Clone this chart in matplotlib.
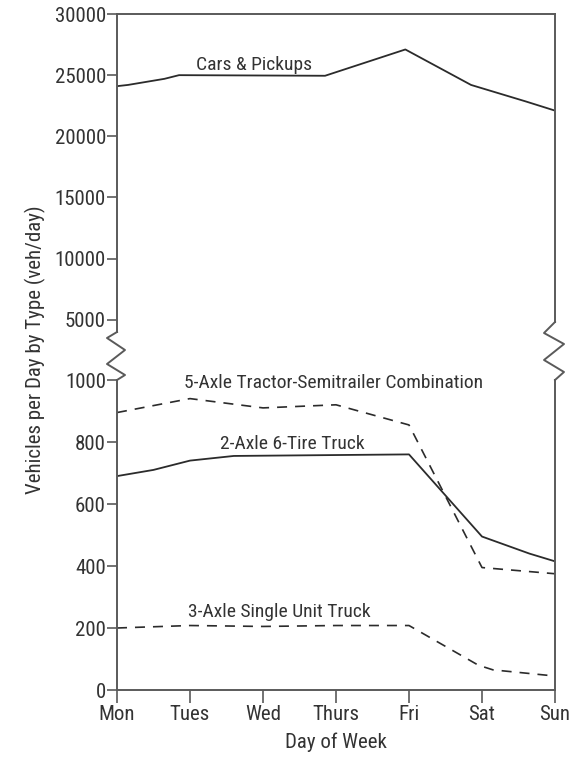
import numpy as np
import matplotlib.pyplot as plt
from matplotlib.lines import Line2D

plt.rcParams['font.family'] = ['Roboto Condensed', 'Archivo Narrow', 'Liberation Sans', 'DejaVu Sans']

# day index 0..6 = Mon..Sun
days = ['Mon', 'Tues', 'Wed', 'Thurs', 'Fri', 'Sat', 'Sun']

# values (x = position in days)
cars_x = [0, 0.15, 0.65, 0.85, 2.85, 3.95, 4.85, 5.6, 6]
cars_y = [24100, 24200, 24700, 25000, 24950, 27100, 24200, 22850, 22100]

axle5_x = [0, 1, 2, 3, 4, 5, 6]
axle5_y = [895, 940, 910, 920, 855, 395, 375]

axle2_x = [0, 0.5, 1, 1.6, 4, 5, 5.65, 6]
axle2_y = [690, 710, 740, 755, 760, 495, 440, 415]

axle3_x = [0, 1, 2, 3, 4, 4.95, 5.15, 6]
axle3_y = [200, 208, 205, 208, 208, 80, 65, 45]

top_ticks = [5000, 10000, 15000, 20000, 25000, 30000]
bot_ticks = [0, 200, 400, 600, 800, 1000]

W, H = 574, 759
fig = plt.figure(figsize=(W / 100, H / 100), dpi=100)

def px(x, y):
    return x / W, 1 - y / H

x0, x1 = 117, 555
ax_top = fig.add_axes([x0 / W, 1 - 332 / H, (x1 - x0) / W, (332 - 14) / H])
ax_bot = fig.add_axes([x0 / W, 1 - 690 / H, (x1 - x0) / W, (690 - 380) / H])

line_c = '#2b2b2b'
spine_c = '#5a5a5a'
text_c = '#333333'
dash = (0, (6, 4.8))

ax_top.plot(cars_x, cars_y, color=line_c, lw=1.3)
ax_bot.plot(axle5_x, axle5_y, color=line_c, lw=1.2, linestyle=dash)
ax_bot.plot(axle2_x, axle2_y, color=line_c, lw=1.3)
ax_bot.plot(axle3_x, axle3_y, color=line_c, lw=1.2, linestyle=dash)

for a in (ax_top, ax_bot):
    a.set_xlim(0, 6)
    for s in a.spines.values():
        s.set_color(spine_c)
        s.set_linewidth(1.4)
    a.tick_params(colors=spine_c, labelcolor=text_c, labelsize=15,
                  width=1.2, length=7, pad=1)

ax_top.set_ylim(4000, 30000)
ax_top.set_yticks(top_ticks)
ax_top.spines['bottom'].set_visible(False)
ax_top.spines['right'].set_bounds(4800, 30000)
ax_top.tick_params(axis='x', bottom=False, labelbottom=False)

ax_bot.set_ylim(0, 1000)
ax_bot.set_yticks(bot_ticks)
ax_bot.spines['top'].set_visible(False)
ax_bot.set_xticks(range(len(days)))
ax_bot.set_xticklabels(days)
ax_bot.tick_params(axis='x', length=9, pad=2)

# series labels
ax_top.text(1.88, 25840, 'Cars & Pickups', ha='center', va='center', fontsize=14, color=text_c)
ax_bot.text(2.96, 990, '5-Axle Tractor-Semitrailer Combination', ha='center', va='center',
            fontsize=14, color=text_c)
ax_bot.text(2.40, 793, '2-Axle 6-Tire Truck', ha='center', va='center', fontsize=14, color=text_c)
ax_bot.text(2.22, 252, '3-Axle Single Unit Truck', ha='center', va='center', fontsize=14, color=text_c)

ax_bot.set_xlabel('Day of Week', fontsize=15, color=text_c, labelpad=6)
fig.text(35 / W, 1 - 350 / H, 'Vehicles per Day by Type (veh/day)', rotation=90,
         ha='center', va='center', fontsize=15, color=text_c)

# break marks
left_zz = [(0, 332), (-10, 338), (8, 350), (-10, 364), (8, 375), (0, 380)]
right_zz = [(0, 322), (-11, 333), (9, 344), (-11, 360), (9, 372), (0, 380)]
for base, pts in ((x0, left_zz), (x1, right_zz)):
    xs = [px(base + dx, y)[0] for dx, y in pts]
    ys = [px(base + dx, y)[1] for dx, y in pts]
    fig.add_artist(Line2D(xs, ys, transform=fig.transFigure, color=spine_c, lw=1.4))

plt.savefig('out.png', dpi=100)
